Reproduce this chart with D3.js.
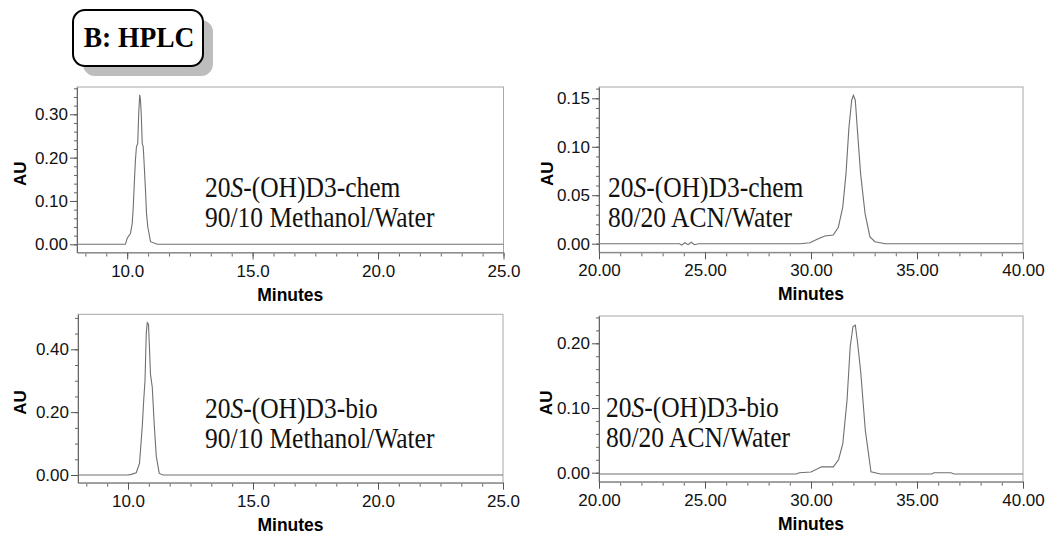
<!DOCTYPE html>
<html>
<head>
<meta charset="utf-8">
<script src="https://cdn.jsdelivr.net/npm/d3@7"></script>
<style>
  body { margin: 0; background: #fff; }
  svg { display: block; }
  .tick text { font-family: "Liberation Sans", Arial, sans-serif; font-size: 17px; fill: #111; }
</style>
</head>
<body>
<script>
var width = 1048, height = 535;

// retention time (min) / absorbance (AU)
var chemMeohTime = [8.0, 9.93, 10.0, 10.13, 10.2, 10.24, 10.29, 10.33, 10.37, 10.42, 10.46, 10.5, 10.53, 10.56, 10.6, 10.64, 10.69, 10.73, 10.77, 10.82, 10.93, 11.2, 25.0];
var chemMeohAU = [0, 0, 0.014, 0.025, 0.048, 0.083, 0.148, 0.195, 0.225, 0.233, 0.302, 0.345, 0.333, 0.302, 0.233, 0.225, 0.171, 0.125, 0.072, 0.041, 0.006, 0, 0];

var chemAcnTime = [20, 23.8, 23.9, 24.05, 24.2, 24.35, 24.5, 24.7, 29.5, 29.95, 30.34, 30.66, 31.05, 31.29, 31.5, 31.65, 31.79, 31.92, 32.0, 32.09, 32.18, 32.34, 32.55, 32.78, 33.02, 33.5, 40];
var chemAcnAU = [0, 0, -0.0015, 0.001, -0.001, 0.0015, -0.001, 0, 0, 0.001, 0.005, 0.008, 0.009, 0.017, 0.038, 0.072, 0.12, 0.148, 0.153, 0.148, 0.12, 0.072, 0.031, 0.007, 0.002, 0, 0];

var bioMeohTime = [8.0, 10.0, 10.13, 10.33, 10.46, 10.57, 10.63, 10.68, 10.73, 10.77, 10.82, 10.86, 10.9, 10.97, 11.05, 11.13, 11.25, 11.4, 25.0];
var bioMeohAU = [0, 0, 0.002, 0.007, 0.037, 0.154, 0.24, 0.30, 0.45, 0.485, 0.48, 0.40, 0.32, 0.28, 0.16, 0.06, 0.005, 0, 0];

var bioAcnTime = [20, 29.3, 29.45, 30.0, 30.5, 31.05, 31.3, 31.5, 31.7, 31.85, 31.98, 32.09, 32.2, 32.35, 32.56, 32.83, 33.27, 35.7, 35.8, 36.6, 36.75, 40];
var bioAcnAU = [-0.002, -0.002, 0, 0.001, 0.009, 0.009, 0.02, 0.045, 0.112, 0.195, 0.226, 0.228, 0.2, 0.154, 0.066, 0.0015, -0.002, -0.002, 0, 0, -0.002, -0.002];

// tick labels
var meohXTicks = [10, 15, 20, 25];
var acnXTicks = [20, 25, 30, 35, 40];
var chemMeohYTicks = [0, 0.1, 0.2, 0.3];
var chemAcnYTicks = [0, 0.05, 0.1, 0.15];
var bioMeohYTicks = [0, 0.2, 0.4];
var bioAcnYTicks = [0, 0.1, 0.2];

var panels = [
  { time: chemMeohTime, au: chemMeohAU, xDomain: [8, 25], xTicks: meohXTicks, xMinor: 5 / 6, xDigits: 1,
    yTicks: chemMeohYTicks, yMinor: 0.02, left: 77, right: 503.5, top: 87, bottom: 252.5, y0: 244.3, yTopPx: 114.3,
    label: ["-chem", "90/10 Methanol/Water"], labelX: 205, labelY: 197, auX: 20 },
  { time: chemAcnTime, au: chemAcnAU, xDomain: [20, 40], xTicks: acnXTicks, xMinor: 1, xDigits: 2,
    yTicks: chemAcnYTicks, yMinor: 0.01, left: 599, right: 1023, top: 87, bottom: 252.3, y0: 243.7, yTopPx: 98.3,
    label: ["-chem", "80/20 ACN/Water"], labelX: 608, labelY: 197, auX: 547 },
  { time: bioMeohTime, au: bioMeohAU, xDomain: [8, 25], xTicks: meohXTicks, xMinor: 5 / 6, xDigits: 1,
    yTicks: bioMeohYTicks, yMinor: 0.05, left: 78, right: 503, top: 314.3, bottom: 482.7, y0: 475, yTopPx: 349.3,
    label: ["-bio", "90/10 Methanol/Water"], labelX: 205, labelY: 418, auX: 20 },
  { time: bioAcnTime, au: bioAcnAU, xDomain: [20, 40], xTicks: acnXTicks, xMinor: 1, xDigits: 2,
    yTicks: bioAcnYTicks, yMinor: 0.02, left: 599, right: 1023, top: 316, bottom: 481.7, y0: 472.7, yTopPx: 343.3,
    label: ["-bio", "80/20 ACN/Water"], labelX: 606, labelY: 417, auX: 546 }
];

var svg = d3.select("body").append("svg")
    .attr("width", width)
    .attr("height", height);

// title box with drop shadow
var title = svg.append("g");
title.append("rect")
    .attr("x", 83).attr("y", 20).attr("width", 130).attr("height", 56)
    .attr("rx", 12).attr("fill", "#bdbdbd");
title.append("rect")
    .attr("x", 73).attr("y", 10).attr("width", 130).attr("height", 56)
    .attr("rx", 12).attr("fill", "#fff").attr("stroke", "#000").attr("stroke-width", 2);
title.append("text")
    .attr("transform", "translate(139,47) scale(1,1.08)")
    .attr("text-anchor", "middle")
    .style("font-family", "'Liberation Serif', 'Times New Roman', serif")
    .style("font-weight", "bold")
    .style("font-size", "27.5px")
    .text("B: HPLC");

panels.forEach(function (p) {
    var g = svg.append("g");

    var x = d3.scaleLinear().domain(p.xDomain).range([p.left, p.right]);

    // calibrate y from the 0 tick and the top labelled tick, then stretch to box
    var yTop = p.yTicks[p.yTicks.length - 1];
    var yCal = d3.scaleLinear().domain([0, yTop]).range([p.y0, p.yTopPx]);
    var y = d3.scaleLinear()
        .domain([yCal.invert(p.bottom), yCal.invert(p.top)])
        .range([p.bottom, p.top]);

    // frame
    g.append("rect")
        .attr("x", p.left).attr("y", p.top)
        .attr("width", p.right - p.left).attr("height", p.bottom - p.top)
        .attr("fill", "none").attr("stroke", "#a8a8a8").attr("stroke-width", 1);

    // minor x ticks
    var x0 = p.xTicks[0];
    var minorX = d3.range(-10, 40).map(function (k) { return x0 + k * p.xMinor; })
        .filter(function (v) { return v >= p.xDomain[0] - 1e-6 && v <= p.xDomain[1] + 1e-6; });
    g.append("g")
        .attr("transform", "translate(0," + (p.bottom + 1) + ")")
        .call(d3.axisBottom(x).tickValues(minorX).tickSize(3).tickSizeOuter(0).tickFormat(""))
        .call(function (a) { a.select(".domain").remove(); a.selectAll("line").attr("stroke", "#666"); });

    // major x ticks
    g.append("g")
        .attr("transform", "translate(0," + p.bottom + ")")
        .call(d3.axisBottom(x).tickValues(p.xTicks).tickSize(7).tickSizeOuter(0).tickPadding(5)
            .tickFormat(function (d) { return d.toFixed(p.xDigits); }))
        .call(function (a) {
            a.select(".domain").attr("stroke", "#777");
            a.selectAll("line").attr("stroke", "#555");
        });

    // minor y ticks
    var minorY = d3.range(0, 60).map(function (k) { return k * p.yMinor; })
        .filter(function (v) { return v <= y.domain()[1]; });
    g.append("g")
        .attr("transform", "translate(" + p.left + ",0)")
        .call(d3.axisLeft(y).tickValues(minorY).tickSize(3).tickSizeOuter(0).tickFormat(""))
        .call(function (a) { a.select(".domain").remove(); a.selectAll("line").attr("stroke", "#666"); });

    // major y ticks
    g.append("g")
        .attr("transform", "translate(" + p.left + ",0)")
        .call(d3.axisLeft(y).tickValues(p.yTicks).tickSize(7).tickSizeOuter(0).tickPadding(2)
            .tickFormat(d3.format(".2f")))
        .call(function (a) {
            a.select(".domain").attr("stroke", "#666");
            a.selectAll("line").attr("stroke", "#555");
        });

    // trace
    var pts = p.time.map(function (t, i) { return [t, p.au[i]]; });
    g.append("path")
        .datum(pts)
        .attr("fill", "none")
        .attr("stroke", "#707070")
        .attr("stroke-width", 1.1)
        .attr("d", d3.line().x(function (d) { return x(d[0]); }).y(function (d) { return y(d[1]); }));

    // axis titles
    g.append("text")
        .attr("x", (p.left + p.right) / 2)
        .attr("y", p.bottom + 48)
        .attr("text-anchor", "middle")
        .style("font-family", "'Liberation Sans', Arial, sans-serif")
        .style("font-weight", "bold")
        .style("font-size", "17.5px")
        .text("Minutes");

    g.append("text")
        .attr("transform", "translate(" + (p.auX + 6) + "," + ((p.top + p.bottom) / 2 + 4) + ") rotate(-90)")
        .attr("text-anchor", "middle")
        .style("font-family", "'Liberation Sans', Arial, sans-serif")
        .style("font-weight", "bold")
        .style("font-size", "17px")
        .text("AU");

    // sample annotation, two separate lines (reference type is a little tall)
    var serif = "'Liberation Serif', 'Times New Roman', serif";
    var line1 = g.append("text")
        .attr("transform", "translate(" + p.labelX + "," + p.labelY + ") scale(1,1.14)")
        .style("font-family", serif)
        .style("font-size", "25.5px")
        .style("fill", "#111");
    line1.append("tspan").text("20");
    line1.append("tspan").style("font-style", "italic").text("S");
    line1.append("tspan").text("-(OH)D3" + p.label[0]);

    g.append("text")
        .attr("transform", "translate(" + p.labelX + "," + (p.labelY + 30) + ") scale(1,1.14)")
        .style("font-family", serif)
        .style("font-size", "25.5px")
        .style("fill", "#111")
        .text(p.label[1]);
});
</script>
</body>
</html>
